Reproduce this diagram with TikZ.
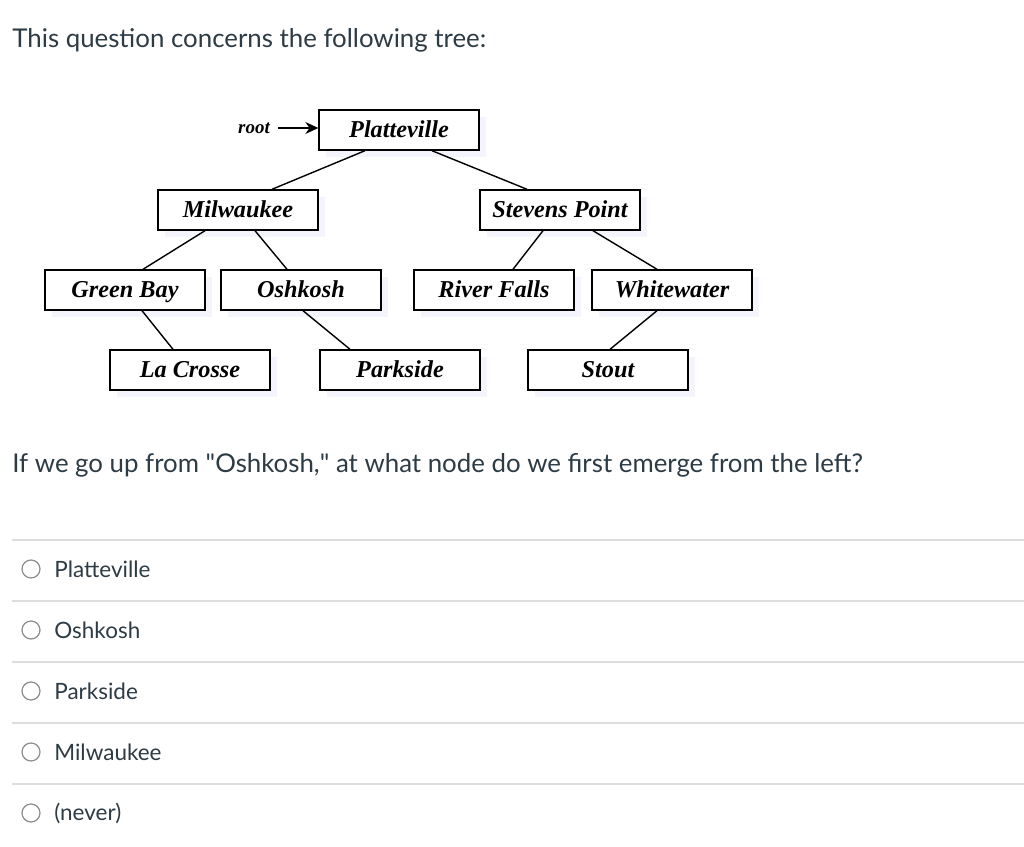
\documentclass[tikz,border=0pt]{standalone}
\usepackage{fontspec}
\setmainfont{Lato}
\newfontfamily\treefont{Liberation Serif}
\usetikzlibrary{arrows.meta}
\definecolor{canvastext}{RGB}{45,59,69}
\definecolor{rulegray}{RGB}{221,221,221}
\definecolor{shadowblue}{RGB}{244,244,252}
\tikzset{
  city/.style={draw,thick,fill=white,minimum width=3.2cm,minimum height=0.8cm,inner sep=0pt,
    text height=1.1em,text depth=0.2em,
    font=\treefont\bfseries\itshape\fontsize{13.8}{15}\selectfont},
  cityshadow/.style={fill=shadowblue,minimum width=3.2cm,minimum height=0.8cm,inner sep=0pt},
  plain/.style={anchor=west,inner sep=0pt,text=canvastext,font=\fontsize{14.7}{17}\selectfont},
  choice/.style={anchor=west,inner sep=0pt,text=canvastext,font=\fontsize{12.8}{15}\selectfont},
  radio/.style={draw=gray!90,line width=0.7pt,circle,minimum size=0.36cm,inner sep=0pt},
}
\begin{document}
\begin{tikzpicture}[x=0.02cm,y=-0.02cm]
  \useasboundingbox (0,0) rectangle (1024,847);
  \node[plain] (title) at (12,40) {This question concerns the following tree:};
  % shadows behind the boxes
  \foreach \x/\y in {399/130,238/210,560/210,125/290,301/290,494/290,672/290,190/370,400/370,608/370}
    \node[cityshadow] at (\x+7,\y+7) {};
  \node[city] (plat) at (399,130) {Platteville};
  \node[city] (milw) at (238,210) {Milwaukee};
  \node[city] (stev) at (560,210) {Stevens Point};
  \node[city] (gbay) at (125,290) {Green Bay};
  \node[city] (osh) at (301,290) {Oshkosh};
  \node[city] (rivf) at (494,290) {River Falls};
  \node[city] (whit) at (672,290) {Whitewater};
  \node[city] (lacr) at (190,370) {La Crosse};
  \node[city] (park) at (400,370) {Parkside};
  \node[city] (stout) at (608,370) {Stout};
  \node[inner sep=0pt,font=\treefont\bfseries\itshape\fontsize{10.8}{12}\selectfont] (root) at (254,128) {root};
  \draw[-{Stealth[length=2.6mm,width=2.4mm]},thick] (root.east) ++(8,0) -- (plat.west |- root.east);
  \draw[thick] ([xshift=-0.68cm]plat.south) -- ([xshift=0.68cm]milw.north);
  \draw[thick] ([xshift=0.66cm]plat.south) -- ([xshift=-0.66cm]stev.north);
  \draw[thick] ([xshift=-0.66cm]milw.south) -- ([xshift=0.36cm]gbay.north);
  \draw[thick] ([xshift=0.34cm]milw.south) -- ([xshift=-0.28cm]osh.north);
  \draw[thick] ([xshift=0.34cm]gbay.south) -- ([xshift=-0.34cm]lacr.north);
  \draw[thick] ([xshift=0.04cm]osh.south) -- ([xshift=-1cm]park.north);
  \draw[thick] ([xshift=-0.34cm]stev.south) -- ([xshift=0.38cm]rivf.north);
  \draw[thick] ([xshift=0.66cm]stev.south) -- ([xshift=-0.3cm]whit.north);
  \draw[thick] ([xshift=-0.3cm]whit.south) -- ([xshift=0.04cm]stout.north);
  \node[plain] (quest) at (12,465) {If we go up from \textquotedbl Oshkosh,\textquotedbl{} at what node do we first emerge from the left?};
  % answer choices
  \foreach \y/\txt [count=\i] in {569/Platteville,630/Oshkosh,691/Parkside,752/Milwaukee,813/(never)} {
    \draw[rulegray,line width=1.1pt] (12,\y-29) -- (1024,\y-29);
    \node[radio] (radio\i) at (31,\y) {};
    \node[choice] (opt\i) at (54,\y) {\txt};
  }
\end{tikzpicture}
\end{document}
